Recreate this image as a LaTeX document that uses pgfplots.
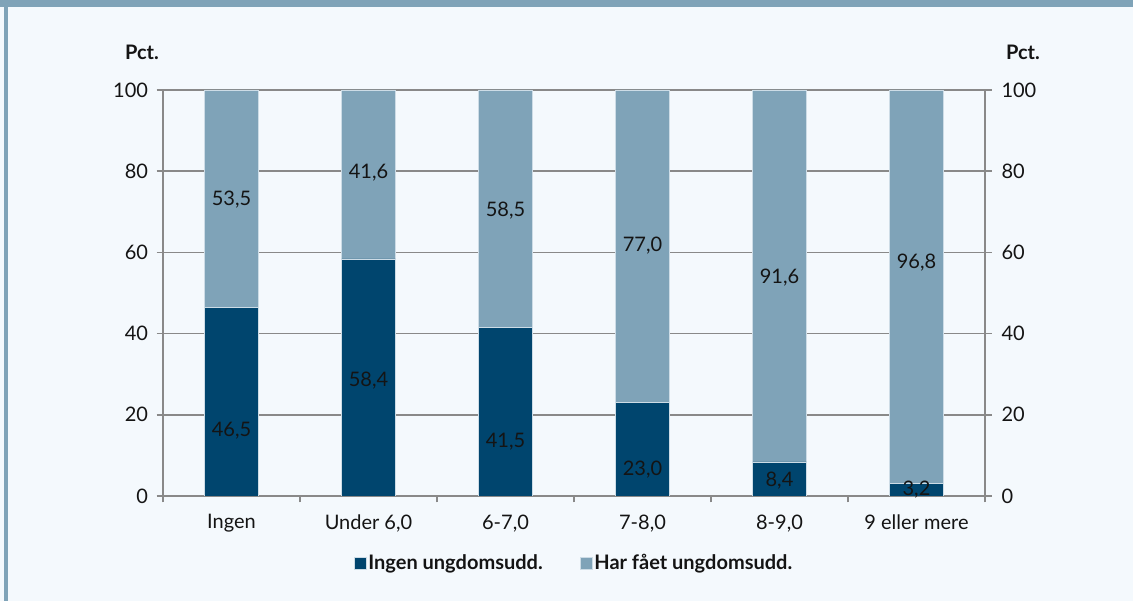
\documentclass[border=0pt]{standalone}
\usepackage{pgfplots}
\pgfplotsset{compat=1.18}
\usepackage{pgfplotstable}
\usepackage{fontspec}
\setmainfont{Lato}
\definecolor{darkbar}{RGB}{0,69,110}
\definecolor{lightbar}{RGB}{127,163,184}
\definecolor{bg}{RGB}{244,249,253}
\definecolor{gridgray}{RGB}{137,137,137}
\definecolor{edge}{RGB}{205,220,230}
\definecolor{txt}{RGB}{20,20,20}
\pgfplotstableread{
x y label
0 16.0 46,5
1 28.3 58,4
2 13.5 41,5
3 6.4 23,0
4 3.7 8,4
5 1.5 3,2
0 72.9 53,5
1 79.6 41,6
2 70.2 58,5
3 61.6 77,0
4 53.9 91,6
5 57.4 96,8
}\labels
\begin{document}
\begin{tikzpicture}
\useasboundingbox (0bp,0bp) rectangle (1133bp,601bp);
\fill[bg] (0bp,0bp) rectangle (1133bp,601bp);
\fill[lightbar] (0bp,594bp) rectangle (1133bp,601bp);
\fill[lightbar] (4bp,0bp) rectangle (8bp,601bp);
\node[font=\fontsize{20bp}{24bp}\selectfont\bfseries, text=txt] at (142bp,549bp) {Pct.};
\node[font=\fontsize{20bp}{24bp}\selectfont\bfseries, text=txt] at (1023bp,549bp) {Pct.};
\begin{axis}[
  at={(163bp,105bp)}, anchor=south west, scale only axis,
  width=822bp, height=406bp,
  xmin=-0.5, xmax=5.5, ymin=0, ymax=100,
  ybar stacked, bar width=54bp,
  xtick={-0.5,0.5,...,5.5}, xticklabels={},
  extra x ticks={0,...,5},
  extra x tick labels={Ingen,Under 6{,}0,6-7{,}0,7-8{,}0,8-9{,}0,9 eller mere},
  extra x tick style={major tick length=0pt, grid=none,
    tick label style={yshift=-15bp}},
  xtick pos=bottom,
  ytick={0,20,...,100}, ytick pos=both, yticklabel pos=left,
  tick align=outside,
  ymajorgrids, grid style={gridgray, line width=1.5bp},
  axis line style={gridgray, line width=1.5bp},
  tick style={gridgray, line width=1.5bp},
  major tick length=6.5bp,
  tick label style={font=\fontsize{20bp}{24bp}\selectfont, text=txt},
  yticklabel style={xshift=-5bp},
  /pgf/number format/assume math mode=true,
  legend style={at={(0.5,-0.165)}, anchor=center, draw=none, fill=none,
    legend columns=2, font=\fontsize{20bp}{24bp}\selectfont\bfseries, text=txt,
    /tikz/every even column/.append style={column sep=35bp}},
  legend image code/.code={\fill[#1] (0bp,-6bp) rectangle (12bp,6bp);},
]
\addplot[fill=darkbar, draw=edge, line width=0.6bp] coordinates {(0,46.5) (1,58.4) (2,41.5) (3,23.0) (4,8.4) (5,3.2)};
\addplot[fill=lightbar, draw=edge, line width=0.6bp] coordinates {(0,53.5) (1,41.6) (2,58.5) (3,77.0) (4,91.6) (5,96.8)};
\legend{Ingen ungdomsudd.,Har fået ungdomsudd.}
\end{axis}
\begin{axis}[
  at={(163bp,105bp)}, anchor=south west, scale only axis,
  width=822bp, height=406bp,
  xmin=-0.5, xmax=5.5, ymin=0, ymax=100,
  axis x line=none, axis y line*=right,
  y axis line style={draw=none},
  ytick={0,20,...,100}, major tick length=6bp, tick align=outside,
  ytick style={draw=none},
  tick label style={font=\fontsize{20bp}{24bp}\selectfont, text=txt},
  yticklabel style={xshift=7bp},
  /pgf/number format/assume math mode=true,
]
\addplot[draw=none, mark=none, nodes near coords, point meta=explicit symbolic,
  every node near coord/.append style={anchor=center, font=\fontsize{20bp}{24bp}\selectfont, text=txt}]
  table[x=x, y=y, meta=label] {\labels};
\end{axis}
\end{tikzpicture}
\end{document}
